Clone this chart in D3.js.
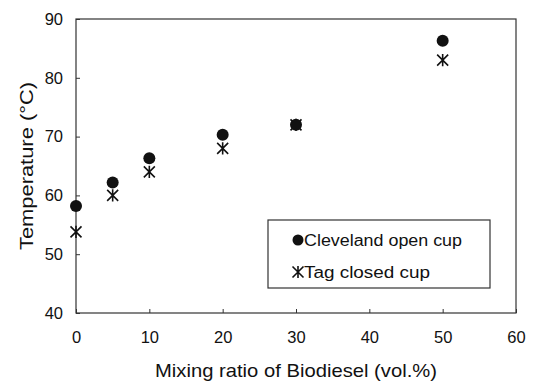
<!DOCTYPE html>
<html>
<head>
<meta charset="utf-8">
<script src="https://cdn.jsdelivr.net/npm/d3@7"></script>
<style>
  body { margin: 0; background: #fff; }
  text { font-family: "Liberation Sans", Arial, sans-serif; fill: #111; }
</style>
</head>
<body>
<div id="chart"></div>
<script>
  const w = 538;
  const h = 382;

  // data
  const ratios = [0, 5, 10, 20, 30, 50];
  const clevelandOpen = [58.2, 62.2, 66.3, 70.3, 72, 86.3];
  const tagClosed = [53.8, 60, 64, 68, 72, 83];
  const xTicks = [0, 10, 20, 30, 40, 50, 60];
  const yTicks = [40, 50, 60, 70, 80, 90];
  const seriesNames = ['Cleveland open cup', 'Tag closed cup'];

  const plotLeft = 76, plotRight = 516, plotTop = 19, plotBottom = 313;

  const x = d3.scaleLinear().domain([0, 60]).range([plotLeft, plotRight]);
  const y = d3.scaleLinear().domain([40, 90]).range([plotBottom, plotTop]);

  const svg = d3.select('#chart')
    .append('svg')
      .attr('width', w)
      .attr('height', h);

  // frame
  svg.append('rect')
      .attr('x', plotLeft)
      .attr('y', plotTop)
      .attr('width', plotRight - plotLeft)
      .attr('height', plotBottom - plotTop)
      .style('fill', 'none')
      .style('stroke', '#333')
      .style('stroke-width', 1.2);

  // x axis, ticks pointing in
  const xAxis = svg.append('g')
      .attr('transform', 'translate(0,' + plotBottom + ')')
      .call(d3.axisBottom(x).tickValues(xTicks).tickSizeInner(-4).tickSizeOuter(0).tickPadding(18));
  xAxis.select('.domain').remove();
  xAxis.selectAll('text').style('font-size', '16.5px').attr('fill', '#111');
  xAxis.selectAll('line').attr('stroke', '#333');

  // y axis
  const yAxis = svg.append('g')
      .attr('transform', 'translate(' + plotLeft + ',0)')
      .call(d3.axisLeft(y).tickValues(yTicks).tickSizeInner(-4).tickSizeOuter(0).tickPadding(13));
  yAxis.select('.domain').remove();
  yAxis.selectAll('text').style('font-size', '16.5px').attr('fill', '#111');
  yAxis.selectAll('line').attr('stroke', '#333');

  // axis titles (the original face runs wider, so stretch to its width)
  svg.append('text')
      .attr('x', 155)
      .attr('y', 377)
      .attr('textLength', 282)
      .attr('lengthAdjust', 'spacingAndGlyphs')
      .style('font-size', '19px')
      .text('Mixing ratio of Biodiesel (vol.%)');

  svg.append('text')
      .attr('transform', 'translate(33,250) rotate(-90)')
      .attr('textLength', 168)
      .attr('lengthAdjust', 'spacingAndGlyphs')
      .style('font-size', '19px')
      .text('Temperature (\u00B0C)');

  // asterisk marker: X with a vertical bar
  const star = s => `M${-s},${-s}L${s},${s}M${-s},${s}L${s},${-s}M0,${-s * 1.1}L0,${s * 1.1}`;

  const pts = svg.append('g');

  pts.selectAll('path.tag')
    .data(ratios)
    .enter().append('path')
      .attr('class', 'tag')
      .attr('transform', (d, i) => 'translate(' + x(d) + ',' + y(tagClosed[i]) + ')')
      .attr('d', star(5.5))
      .style('fill', 'none')
      .style('stroke', '#111')
      .style('stroke-width', 1.6);

  pts.selectAll('circle.cleve')
    .data(ratios)
    .enter().append('circle')
      .attr('class', 'cleve')
      .attr('cx', d => x(d))
      .attr('cy', (d, i) => y(clevelandOpen[i]))
      .attr('r', 6)
      .style('fill', '#111');

  // legend
  const legend = svg.append('g');
  legend.append('rect')
      .attr('x', 268)
      .attr('y', 220)
      .attr('width', 222)
      .attr('height', 68)
      .style('fill', '#fff')
      .style('stroke', '#333')
      .style('stroke-width', 1.2);

  legend.append('circle')
      .attr('cx', 298)
      .attr('cy', 240)
      .attr('r', 5.5)
      .style('fill', '#111');
  legend.append('path')
      .attr('transform', 'translate(298,272)')
      .attr('d', star(5.5))
      .style('fill', 'none')
      .style('stroke', '#111')
      .style('stroke-width', 1.6);

  legend.selectAll('text')
    .data(seriesNames)
    .enter().append('text')
      .attr('x', 304)
      .attr('y', (d, i) => 246 + i * 32)
      .attr('textLength', (d, i) => i ? 126 : 158)
      .attr('lengthAdjust', 'spacingAndGlyphs')
      .style('font-size', '16px')
      .text(d => d);
</script>
</body>
</html>
